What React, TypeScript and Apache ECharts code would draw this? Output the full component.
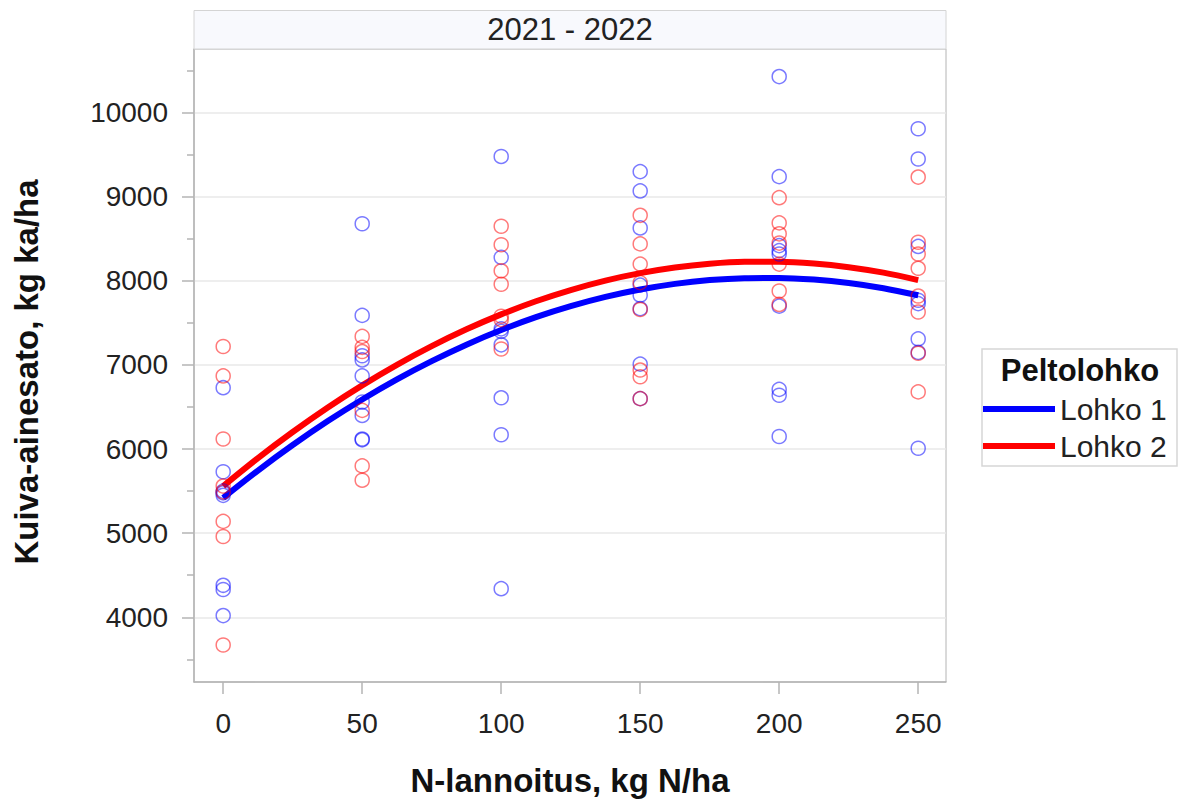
import React, { useEffect, useRef } from "react";
import * as echarts from "echarts";

const FONT = "'Liberation Sans', Arial, Helvetica, sans-serif";

const panelTitle = "2021 - 2022";
const xTitle = "N-lannoitus, kg N/ha";
const yTitle = "Kuiva-ainesato, kg ka/ha";
const legendTitle = "Peltolohko";
const seriesNames = ["Lohko 1", "Lohko 2"];

const nRates = [0, 50, 100, 150, 200, 250];

// observations per N rate (kg ka/ha)
const lohko1Obs = [
  [6730, 5730, 5500, 5480, 5450, 4380, 4330, 4020],
  [8680, 7590, 7110, 7060, 6870, 6560, 6400, 6120, 6110],
  [9480, 8280, 7430, 7400, 7240, 6610, 6170, 4340],
  [9300, 9070, 8630, 7950, 7830, 7670, 7010, 6600],
  [10430, 9240, 8420, 8360, 8320, 7700, 6710, 6640, 6150],
  [9810, 9450, 8410, 7770, 7730, 7310, 7150, 6010],
];
const lohko2Obs = [
  [7220, 6870, 6120, 5560, 5490, 5140, 4960, 3670],
  [7340, 7210, 7160, 6460, 5800, 5630],
  [8650, 8430, 8120, 7960, 7580, 7540, 7190],
  [8780, 8440, 8200, 7980, 7660, 6940, 6860, 6600],
  [8990, 8690, 8560, 8450, 8200, 7880, 7720],
  [9235, 8460, 8320, 8150, 7820, 7630, 7140, 6680],
];

// fitted curves
const fitRates = [0, 12.5, 25, 37.5, 50, 62.5, 75, 87.5, 100, 112.5, 125, 137.5, 150, 162.5, 175, 187.5, 200, 212.5, 225, 237.5, 250];
const lohko1Fit = [5420, 5745, 6048, 6330, 6590, 6829, 7046, 7242, 7416, 7569, 7700, 7810, 7898, 7965, 8010, 8033, 8036, 8016, 7975, 7913, 7829];
const lohko2Fit = [5560, 5893, 6203, 6492, 6758, 7002, 7224, 7424, 7602, 7758, 7891, 8003, 8092, 8159, 8204, 8227, 8228, 8207, 8163, 8098, 8010];

const xTicks = [0, 50, 100, 150, 200, 250];
const yMajorTicks = [4000, 5000, 6000, 7000, 8000, 9000, 10000];
const yMinorTicks = [3500, 4500, 5500, 6500, 7500, 8500, 9500, 10500];

const X_MIN = -10.5;
const X_MAX = 260;
const Y_MIN = 3230;
const Y_MAX = 10758;

const AXIS_GRAY = "#b4b4b4";
const BLUE = "#0000ff";
const RED = "#ff0000";

function obsPairs(obs: number[][]) {
  const out: number[][] = [];
  nRates.forEach((x, i) => obs[i].forEach((v) => out.push([x, v])));
  return out;
}

export default function App() {
  const ref = useRef<HTMLDivElement>(null);
  useEffect(() => {
    if (!ref.current) return;
    const chart = echarts.init(ref.current, undefined, { renderer: "svg" });
    const yBase = {
      type: "value",
      min: Y_MIN,
      max: Y_MAX,
      position: "left",
    };
    chart.setOption({
      animation: false,
      backgroundColor: "#ffffff",
      grid: {
        left: 194,
        top: 49,
        width: 752,
        height: 633,
        show: true,
        borderColor: AXIS_GRAY,
        borderWidth: 1,
        backgroundColor: "#ffffff",
      },
      xAxis: {
        type: "value",
        min: X_MIN,
        max: X_MAX,
        axisLine: { show: true, onZero: false, lineStyle: { color: AXIS_GRAY, width: 1.5 } },
        axisTick: { show: true, length: 12, customValues: xTicks, lineStyle: { color: AXIS_GRAY, width: 1.5 } },
        axisLabel: {
          customValues: xTicks,
          fontSize: 28,
          color: "#222",
          margin: 27,
          fontFamily: FONT,
          formatter: (v: number) => String(v),
        },
        splitLine: { show: false },
      },
      yAxis: [
        {
          ...yBase,
          axisLine: { show: true, onZero: false, lineStyle: { color: AXIS_GRAY, width: 1.5 } },
          axisTick: { show: true, length: 12, customValues: yMajorTicks, lineStyle: { color: AXIS_GRAY, width: 1.5 } },
          axisLabel: {
            customValues: yMajorTicks,
            fontSize: 28,
            color: "#222",
            margin: 26,
            fontFamily: FONT,
            formatter: (v: number) => String(v),
          },
          splitLine: { show: true, lineStyle: { color: "#e8e8e8", width: 1.5 } },
        },
        {
          ...yBase,
          axisLine: { show: false, onZero: false },
          axisTick: { show: true, length: 7, customValues: yMinorTicks, lineStyle: { color: AXIS_GRAY, width: 1.5 } },
          axisLabel: { show: false },
          splitLine: { show: false },
        },
      ],
      legend: {
        data: seriesNames.map((n) => ({ name: n, icon: "rect" })),
        orient: "vertical",
        left: 983,
        top: 394,
        padding: 0,
        itemWidth: 72,
        itemHeight: 6,
        itemGap: 7,
        textStyle: { fontSize: 30, lineHeight: 30, color: "#222", fontFamily: FONT },
      },
      series: [
        {
          name: seriesNames[0],
          type: "line",
          data: fitRates.map((x, i) => [x, lohko1Fit[i]]),
          smooth: 0.3,
          showSymbol: false,
          color: BLUE,
          lineStyle: { color: BLUE, width: 6 },
          z: 2,
        },
        {
          name: seriesNames[1],
          type: "line",
          data: fitRates.map((x, i) => [x, lohko2Fit[i]]),
          smooth: 0.3,
          showSymbol: false,
          color: RED,
          lineStyle: { color: RED, width: 6 },
          z: 2,
        },
        {
          name: seriesNames[0] + " havainnot",
          type: "scatter",
          data: obsPairs(lohko1Obs),
          symbol: "circle",
          symbolSize: 14,
          itemStyle: { color: "rgba(0,0,0,0)", borderColor: "rgba(0,0,255,0.65)", borderWidth: 1.5 },
          z: 3,
        },
        {
          name: seriesNames[1] + " havainnot",
          type: "scatter",
          data: obsPairs(lohko2Obs),
          symbol: "circle",
          symbolSize: 14,
          itemStyle: { color: "rgba(0,0,0,0)", borderColor: "rgba(255,0,0,0.65)", borderWidth: 1.5 },
          z: 3,
        },
      ],
      graphic: [
        {
          type: "rect",
          shape: { x: 194, y: 10.5, width: 752, height: 38.5 },
          style: { fill: "#f8f9fd", stroke: "#d4d4d4", lineWidth: 1 },
          z: 1,
        },
        {
          type: "text",
          x: 570,
          y: 29,
          style: { text: panelTitle, font: `31px ${FONT}`, fill: "#222", textAlign: "center", textVerticalAlign: "middle" },
          z: 2,
        },
        {
          type: "text",
          x: 570,
          y: 780,
          style: { text: xTitle, font: `bold 33px ${FONT}`, fill: "#111", textAlign: "center", textVerticalAlign: "middle" },
        },
        {
          type: "text",
          x: 26,
          y: 372,
          rotation: Math.PI / 2,
          style: { text: yTitle, font: `bold 33px ${FONT}`, fill: "#111", textAlign: "center", textVerticalAlign: "middle" },
        },
        {
          type: "rect",
          shape: { x: 982, y: 349, width: 195, height: 117 },
          style: { fill: "#ffffff", stroke: "#d6d6d6", lineWidth: 1.5 },
          z: 0,
        },
        {
          type: "text",
          x: 1080,
          y: 370,
          style: { text: legendTitle, font: `bold 31px ${FONT}`, fill: "#111", textAlign: "center", textVerticalAlign: "middle" },
          z: 1,
        },
      ],
    });
    return () => chart.dispose();
  }, []);
  return (
    <div
      ref={ref}
      style={{ position: "absolute", left: 0, top: 0, width: 1180, height: 801 }}
    />
  );
}
